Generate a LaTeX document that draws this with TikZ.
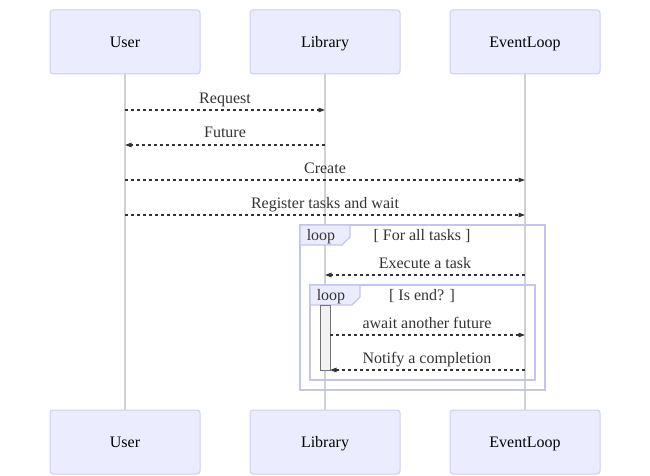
\documentclass[tikz,border=0pt]{standalone}
\usepackage{fontspec}
\setmainfont{Liberation Serif}
\usetikzlibrary{arrows.meta}
\definecolor{actfill}{HTML}{ECECFF}
\definecolor{actline}{HTML}{CCCCFF}
\definecolor{frameline}{HTML}{C3C3F5}
\definecolor{txt}{HTML}{333333}
\tikzset{
  actor/.style={draw=actline,fill=actfill,rounded corners=3pt,line width=1pt,minimum width=150pt,minimum height=64pt,inner sep=0pt,text=black,text height=13pt,text depth=2pt,font=\fontsize{16}{19}\selectfont},
  life/.style={draw=black!18,line width=1.5pt},
  msg/.style={draw=txt,line width=1.2pt,dash pattern=on 3pt off 3pt,-{Triangle[length=6.5pt,width=4.5pt]}},
  msgtext/.style={text=txt,font=\fontsize{16}{19}\selectfont,inner sep=0pt,anchor=base},
  frame/.style={draw=frameline,line width=1.3pt},
  framebox/.style={draw=frameline,fill=actfill,line width=1.3pt}
}
\begin{document}
\begin{tikzpicture}[x=1pt,y=-1pt]
    \useasboundingbox (0,0) rectangle (650,476);
    % actors
    \node[actor] (userT) at (125,42) {User};
    \node[actor] (libT) at (325,42) {Library};
    \node[actor] (loopT) at (525,42) {EventLoop};
    \node[actor] (userB) at (125,442) {User};
    \node[actor] (libB) at (325,442) {Library};
    \node[actor] (loopB) at (525,442) {EventLoop};
    \draw[life] (userT) -- (userB);
    \draw[life] (libT) -- (libB);
    \draw[life] (loopT) -- (loopB);
    % loop frames
    \draw[frame] (300,225) rectangle (545,390);
    \draw[framebox] (300,225) -- (350,225) -- (350,237) -- (342,245) -- (300,245) -- cycle;
    \node[msgtext] (loopA) at (321,240) {loop};
    \node[msgtext] (condA) at (422,240) {[ For all tasks ]};
    \draw[frame] (310,285) rectangle (535,380);
    \draw[framebox] (310,285) -- (360,285) -- (360,297) -- (352,305) -- (310,305) -- cycle;
    \node[msgtext] (loopB1) at (331,300) {loop};
    \node[msgtext] (condB) at (422,300) {[ Is end? ]};
    % activation
    \draw[fill=black!5,draw=black!55,line width=1pt] (320,305) rectangle (330,370);
    % message ends
    \coordinate (u1) at (125,110); \coordinate (l1) at (325,110);
    \coordinate (u2) at (125,145); \coordinate (l2) at (325,145);
    \coordinate (u3) at (125,180); \coordinate (e3) at (525,180);
    \coordinate (u4) at (125,215); \coordinate (e4) at (525,215);
    \coordinate (l5) at (325,275); \coordinate (e5) at (525,275);
    \coordinate (a6) at (330,335); \coordinate (e6) at (525,335);
    \coordinate (a7) at (330,370); \coordinate (e7) at (525,370);
    % messages
    \draw[msg] (u1) -- (l1);
    \node[msgtext] (m1) at (225,103) {Request};
    \draw[msg] (l2) -- (u2);
    \node[msgtext] (m2) at (225,138) {Future};
    \draw[msg] (u3) -- (e3);
    \node[msgtext] (m3) at (325,173) {Create};
    \draw[msg] (u4) -- (e4);
    \node[msgtext] (m4) at (325,208) {Register tasks and wait};
    \draw[msg] (e5) -- (l5);
    \node[msgtext] (m5) at (425,268) {Execute a task};
    \draw[msg] (a6) -- (e6);
    \node[msgtext] (m6) at (427,328) {await another future};
    \draw[msg] (e7) -- (a7);
    \node[msgtext] (m7) at (427,363) {Notify a completion};
\end{tikzpicture}
\end{document}
